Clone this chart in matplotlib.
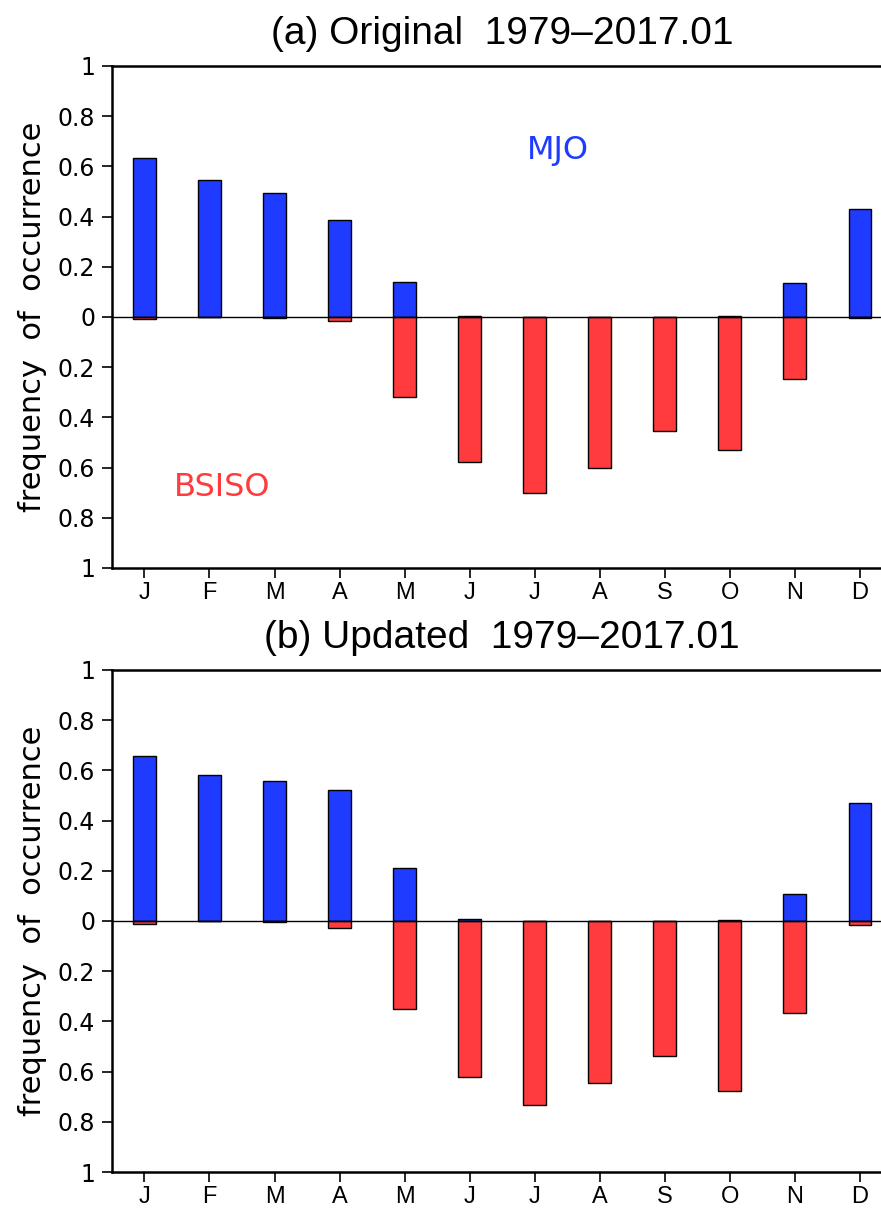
import matplotlib
matplotlib.use("Agg")
import matplotlib.pyplot as plt
import numpy as np

months = ["J", "F", "M", "A", "M", "J", "J", "A", "S", "O", "N", "D"]

# (a) original index, 1979-2017.01
mjo_orig = [0.632, 0.545, 0.493, 0.385, 0.139, 0.005, 0.0, 0.0, 0.0, 0.004, 0.134, 0.429]
bsiso_orig = [0.007, 0.0, 0.005, 0.018, 0.320, 0.576, 0.703, 0.600, 0.453, 0.530, 0.248, 0.005]

# (b) updated index, 1979-2017.01
mjo_upd = [0.658, 0.580, 0.556, 0.521, 0.211, 0.007, 0.0, 0.0, 0.0, 0.004, 0.108, 0.471]
bsiso_upd = [0.011, 0.0, 0.005, 0.027, 0.349, 0.620, 0.734, 0.644, 0.537, 0.677, 0.368, 0.016]

titles = ["(a) Original  1979\u20132017.01", "(b) Updated  1979\u20132017.01"]

blue = "#1f3bff"
red = "#ff3b3d"
lib = ["Liberation Sans", "DejaVu Sans"]

fig = plt.figure(figsize=(8.81, 12.10), dpi=100)
boxes = [[0.127, 0.5306, 0.886, 0.4149], [0.127, 0.0314, 0.886, 0.4149]]
x = np.arange(1, 13)

for k, (mjo, bsiso) in enumerate([(mjo_orig, bsiso_orig), (mjo_upd, bsiso_upd)]):
    ax = fig.add_axes(boxes[k])
    ax.bar(x, mjo, width=0.35, color=blue, edgecolor="black", linewidth=1.0, zorder=2)
    ax.bar(x, -np.array(bsiso), width=0.35, color=red, edgecolor="black", linewidth=1.0, zorder=2)
    ax.axhline(0, color="black", linewidth=1.0, zorder=3)

    ax.set_xlim(0.5, 12.5)
    ax.set_ylim(-1, 1)
    yt = np.arange(-1, 1.01, 0.2)
    ax.set_yticks(yt)
    ax.set_yticklabels(["%g" % abs(round(v, 1)) for v in yt], fontsize=17, family="DejaVu Sans")
    ax.set_xticks(x)
    ax.set_xticklabels(months, fontsize=17, family=lib)
    ax.tick_params(axis="both", direction="out", length=7, width=1.2, pad=5)
    ax.tick_params(axis="x", pad=3)
    for s in ax.spines.values():
        s.set_linewidth(1.8)
    ax.set_ylabel("frequency  of  occurrence", fontsize=22, labelpad=8)
    ax.set_title(titles[k], fontsize=28, family=lib, pad=16)

    if k == 0:
        ax.text(7.35, 0.665, "MJO", color=blue, fontsize=23, ha="center", va="center")
        ax.text(2.2, -0.68, "BSISO", color=red, fontsize=23, ha="center", va="center")

fig.savefig("out.png", dpi=100)
